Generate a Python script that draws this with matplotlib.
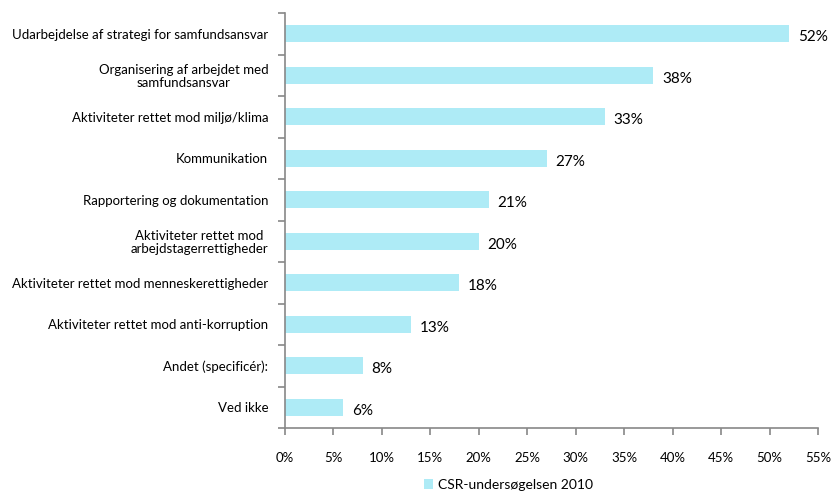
import matplotlib
matplotlib.use('Agg')
import matplotlib.pyplot as plt
from matplotlib.ticker import MultipleLocator, FixedLocator, FuncFormatter

plt.rcParams['font.family'] = ['Lato', 'DejaVu Sans']

categories = [
    'Udarbejdelse af strategi for samfundsansvar',
    'Organisering af arbejdet med\nsamfundsansvar',
    'Aktiviteter rettet mod miljø/klima',
    'Kommunikation',
    'Rapportering og dokumentation',
    'Aktiviteter rettet mod\narbejdstagerrettigheder',
    'Aktiviteter rettet mod menneskerettigheder',
    'Aktiviteter rettet mod anti-korruption',
    'Andet (specificér):',
    'Ved ikke',
]
values = [52, 38, 33, 27, 21, 20, 18, 13, 8, 6]
series_name = 'CSR-undersøgelsen 2010'

fig = plt.figure(figsize=(8.33, 4.91), dpi=100)
ax = fig.add_axes([285 / 833, 1 - 428 / 491, (818 - 285) / 833, (428 - 13) / 491])

ypos = list(range(len(values)))
bars = ax.barh(ypos, values, height=0.42, color='#AEEBF6', label=series_name)
ax.set_ylim(len(values) - 0.5, -0.5)
ax.set_xlim(0, 55)

for y, v in zip(ypos, values):
    ax.text(v + 0.9, y + 0.08, f'{v}%', va='center', ha='left', fontsize=11)

ax.set_yticks(ypos)
ax.set_yticklabels(categories, fontsize=9.5, ha='right', multialignment='center',
                   linespacing=1.1)
ax.tick_params(axis='y', which='major', length=0, pad=12)
ax.yaxis.set_minor_locator(FixedLocator([i - 0.5 for i in range(len(values) + 1)]))
ax.tick_params(axis='y', which='minor', length=5, color='#888888', width=1.2)

ax.xaxis.set_major_locator(MultipleLocator(5))
ax.xaxis.set_major_formatter(FuncFormatter(lambda x, p: f'{int(round(x))}%'))
ax.tick_params(axis='x', length=5, color='#888888', width=1.2, labelsize=9.5, pad=12)

for s in ['top', 'right']:
    ax.spines[s].set_visible(False)
for s in ['left', 'bottom']:
    ax.spines[s].set_color('#888888')
    ax.spines[s].set_linewidth(1.2)

fig.legend(handles=[bars], labels=[series_name], loc='lower center',
           bbox_to_anchor=(0.61, -0.025), frameon=False, fontsize=10,
           handlelength=0.7, handleheight=0.7, handletextpad=0.3)

fig.savefig('out.png', dpi=100)
